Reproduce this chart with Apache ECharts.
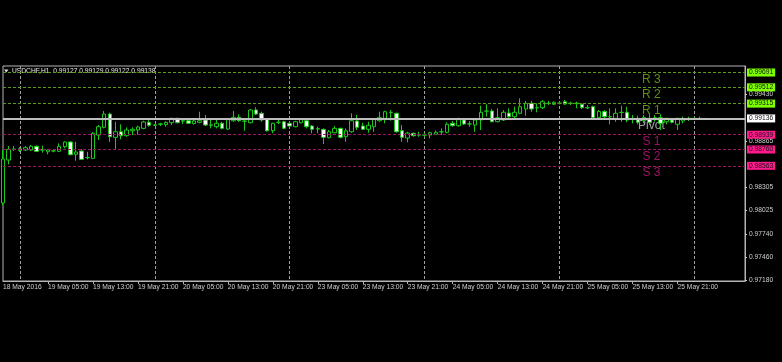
<!DOCTYPE html>
<html><head><meta charset="utf-8">
<script src="https://cdn.jsdelivr.net/npm/echarts@6/dist/echarts.min.js"></script>
<style>html,body{margin:0;padding:0;background:#000;overflow:hidden}#c{width:782px;height:362px}</style>
</head><body><div id="c"></div>
<script>
// hourly sessions (weekend gap between 20 May and 23 May)
const sessions = [['18 May',21,24],['19 May',0,24],['20 May',0,24],['23 May',0,24],['24 May',0,24],['25 May',0,24],['26 May',0,10]];
const categories = [];
sessions.forEach(([d,h0,h1]) => { for (let h = h0; h < h1; h++) categories.push(d + ' ' + String(h).padStart(2,'0') + ':00'); });

const open = [0.98113,0.98633,0.98766,0.98748,0.98754,0.98754,0.98799,0.98757,0.98733,0.98742,
0.98738,0.98794,0.98851,0.98702,0.98742,0.98663,0.98653,0.98935,0.99028,0.99189,
0.98907,0.98975,0.98927,0.98987,0.98996,0.99016,0.99089,0.99057,0.99069,0.99060,
0.99084,0.99137,0.99107,0.99108,0.99074,0.99089,0.99117,0.99057,0.99036,0.99077,
0.99008,0.99108,0.99149,0.99102,0.99084,0.99238,0.99198,0.99125,0.98987,0.99088,
0.99096,0.99077,0.99036,0.99084,0.99108,0.99044,0.99010,0.99004,0.98903,0.98963,
0.99016,0.98915,0.98975,0.99105,0.99044,0.99004,0.99036,0.99108,0.99137,0.99208,
0.99198,0.98987,0.98899,0.98956,0.98937,0.98934,0.98935,0.98944,0.98973,0.98968,
0.99077,0.99048,0.99117,0.99070,0.99056,0.99117,0.99224,0.99226,0.99096,0.99117,
0.99201,0.99157,0.99198,0.99250,0.99319,0.99264,0.99266,0.99317,0.99307,0.99321,
0.99338,0.99318,0.99320,0.99307,0.99264,0.99278,0.99145,0.99220,0.99155,0.99137,
0.99208,0.99210,0.99135,0.99137,0.99108,0.99137,0.99143,0.99145,0.99096,0.99117,
0.99065,0.99105,0.99135,0.99137,0.99135,0.99127];
const high = [0.98754,0.98802,0.98802,0.98790,0.98802,0.98814,0.98808,0.98806,0.98760,0.98757,
0.98835,0.98859,0.98859,0.98854,0.98762,0.98733,0.98972,0.99056,0.99226,0.99205,
0.99096,0.99065,0.99028,0.99028,0.99048,0.99108,0.99125,0.99068,0.99084,0.99101,
0.99145,0.99145,0.99117,0.99123,0.99123,0.99217,0.99177,0.99137,0.99137,0.99096,
0.99137,0.99226,0.99186,0.99137,0.99250,0.99270,0.99217,0.99137,0.99084,0.99125,
0.99108,0.99096,0.99108,0.99137,0.99125,0.99056,0.99036,0.99016,0.98996,0.99044,
0.99024,0.99016,0.99198,0.99177,0.99084,0.99096,0.99137,0.99217,0.99229,0.99238,
0.99205,0.99056,0.98975,0.98966,0.98975,0.98959,0.98975,0.98990,0.99016,0.99089,
0.99105,0.99145,0.99137,0.99105,0.99137,0.99290,0.99307,0.99250,0.99258,0.99238,
0.99258,0.99278,0.99379,0.99347,0.99347,0.99319,0.99359,0.99347,0.99341,0.99335,
0.99359,0.99338,0.99338,0.99319,0.99298,0.99290,0.99238,0.99238,0.99258,0.99258,
0.99290,0.99278,0.99177,0.99169,0.99177,0.99198,0.99177,0.99186,0.99145,0.99137,
0.99145,0.99157,0.99157,0.99153,0.99157,0.99139];
const low = [0.98088,0.98581,0.98742,0.98730,0.98742,0.98742,0.98730,0.98721,0.98702,0.98726,
0.98730,0.98774,0.98690,0.98624,0.98633,0.98641,0.98649,0.98875,0.99016,0.98851,
0.98754,0.98883,0.98915,0.98935,0.98939,0.99004,0.99036,0.99044,0.99044,0.99036,
0.99056,0.99077,0.99068,0.99068,0.99062,0.99077,0.99044,0.99016,0.99016,0.99004,
0.98996,0.99096,0.99096,0.98987,0.99077,0.99177,0.99096,0.98975,0.98956,0.99068,
0.99004,0.99028,0.99028,0.99077,0.99016,0.98956,0.98956,0.98826,0.98895,0.98956,
0.98895,0.98854,0.98963,0.98996,0.98996,0.98963,0.98975,0.99096,0.99077,0.99108,
0.98963,0.98854,0.98847,0.98917,0.98915,0.98911,0.98895,0.98935,0.98935,0.98956,
0.99036,0.99036,0.99056,0.99036,0.98975,0.98996,0.99157,0.99089,0.99089,0.99105,
0.99145,0.99137,0.99186,0.99169,0.99217,0.99210,0.99250,0.99298,0.99298,0.99305,
0.99298,0.99298,0.99258,0.99250,0.99250,0.99137,0.99137,0.99137,0.99065,0.99096,
0.99096,0.99089,0.99077,0.99065,0.99077,0.99056,0.99096,0.98996,0.99065,0.99077,
0.98996,0.99077,0.99105,0.99117,0.99121,0.99122];
const close = [0.98645,0.98762,0.98763,0.98770,0.98782,0.98799,0.98738,0.98754,0.98754,0.98744,
0.98799,0.98851,0.98697,0.98730,0.98641,0.98661,0.98956,0.99036,0.99189,0.98915,
0.98975,0.98927,0.98996,0.99004,0.99032,0.99093,0.99053,0.99055,0.99067,0.99089,
0.99137,0.99084,0.99104,0.99077,0.99107,0.99108,0.99056,0.99055,0.99077,0.99016,
0.99125,0.99149,0.99108,0.99104,0.99238,0.99189,0.99117,0.98987,0.99077,0.99090,
0.99016,0.99044,0.99096,0.99125,0.99036,0.99004,0.99008,0.98907,0.98975,0.99016,
0.98907,0.98987,0.99108,0.99028,0.99004,0.99053,0.99125,0.99145,0.99217,0.99210,
0.98975,0.98907,0.98959,0.98927,0.98935,0.98936,0.98963,0.98968,0.98975,0.99065,
0.99048,0.99129,0.99068,0.99068,0.99117,0.99210,0.99226,0.99096,0.99145,0.99210,
0.99157,0.99210,0.99278,0.99319,0.99250,0.99266,0.99338,0.99319,0.99331,0.99319,
0.99310,0.99320,0.99318,0.99266,0.99266,0.99145,0.99220,0.99157,0.99157,0.99198,
0.99210,0.99117,0.99137,0.99089,0.99149,0.99089,0.99145,0.99077,0.99137,0.99089,
0.99137,0.99137,0.99137,0.99135,0.99137,0.99136];

const tickLabels = ['18 May 2016','19 May 05:00','19 May 13:00','19 May 21:00','20 May 05:00','20 May 13:00','20 May 21:00','23 May 05:00','23 May 13:00','23 May 21:00','24 May 05:00','24 May 13:00','24 May 21:00','25 May 05:00','25 May 13:00','25 May 21:00'];
const separators = ['19 May 00:00','20 May 00:00','23 May 00:00','24 May 00:00','25 May 00:00','26 May 00:00'];
const priceTicks = [0.97180,0.97460,0.97740,0.98025,0.98305,0.98865,0.99430];
const levelNames = ['R 3','R 2','R 1','Pivot','S 1','S 2','S 3'];
const levelValues = [0.99691,0.99512,0.99315,0.99136,0.98939,0.98760,0.98563];
const titleText = 'USDCHF,H1  0.99127 0.99129 0.99122 0.99138';

const FONT = 'Liberation Sans';
const GREEN = '#19c819';
const kindOf = n => n[0] === 'R' ? 'R' : (n[0] === 'S' ? 'S' : 'P');
const lineCol = {R:'#5e9a1c', P:'#bdbdbd', S:'#9c1763'};
const boxCol = {R:'#80ff00', P:'#ffffff', S:'#ff1a8c'};
const textCol = {R:'#74b21c', P:'#c8c8c8', S:'#c8157e'};

const ohlc = open.map((o,i) => [o, close[i], low[i], high[i]]);
const isLabelIdx = idx => idx === 0 || tickLabels.indexOf(categories[idx]) > 0;

const chart = echarts.init(document.getElementById('c'), null, {renderer:'canvas'});
chart.setOption({
  animation:false,
  backgroundColor:'#000',
  grid:{left:2, right:37, top:66, bottom:81, show:true, borderColor:'#b4b4b4', borderWidth:1, backgroundColor:'transparent'},
  xAxis:{type:'category', data:categories, boundaryGap:false,
    axisLine:{show:true, lineStyle:{color:'#b4b4b4', width:1}},
    axisTick:{show:true, interval:(i)=>isLabelIdx(i) && i>0, length:3, lineStyle:{color:'#b4b4b4'}},
    axisLabel:{show:true, interval:(i)=>isLabelIdx(i), align:'left', margin:3, color:'#cfcfcf', fontSize:6.7, fontFamily:FONT,
      formatter:(v,i)=> i===0 ? tickLabels[0] : v},
    splitLine:{show:true, interval:(i)=>separators.indexOf(categories[i])>=0, lineStyle:{color:'#a0a0a0', type:[3,2], width:1}}
  },
  yAxis:{type:'value', position:'right', min:0.9717, max:0.9977, scale:true,
    axisLine:{show:true, lineStyle:{color:'#b4b4b4'}},
    axisTick:{show:true, length:2, customValues:priceTicks, lineStyle:{color:'#d0d0d0'}},
    axisLabel:{show:true, customValues:priceTicks, margin:4, color:'#cfcfcf', fontSize:6.7, fontFamily:FONT, formatter:v=>v.toFixed(5)},
    splitLine:{show:false}
  },
  graphic:[
    {type:'polygon', shape:{points:[[4,69.5],[8.5,69.5],[6.25,72.5]]}, style:{fill:'#e0e0e0'}},
    {type:'text', left:12, top:67.5, style:{text:titleText, fill:'#e6e6e6', font:'6.7px '+FONT}}
  ],
  series:[
    {type:'scatter', z:1, symbolSize:1, silent:true,
      itemStyle:{color:'transparent'},
      data:levelValues.map((v,i)=>({value:[115, v], label:{color:textCol[kindOf(levelNames[i])]}})),
      label:{show:true, position:'inside', offset:[2,7], fontSize:12, fontFamily:FONT,
        formatter:p=>levelNames[p.dataIndex]},
      markLine:{silent:true, symbol:['none','none'], animation:false, precision:5,
        data:levelValues.map((v,i)=>{const k=kindOf(levelNames[i]); return {yAxis:v,
          lineStyle:{color:lineCol[k], type:k==='P'?'solid':[3,2], width:k==='P'?2:1},
          label:{show:true, position:'end', distance:2, formatter:v.toFixed(5), fontSize:6.7, fontFamily:FONT,
            color:'#111', backgroundColor:boxCol[k], padding:[1,2,0,2], lineHeight:7}};})
      }
    },
    {type:'candlestick', z:3, data:ohlc, barWidth:4, clip:true,
      itemStyle:{color:'#000000', color0:'#ffffff', borderColor:GREEN, borderColor0:GREEN, borderWidth:1}
    }
  ]
});
</script></body></html>
